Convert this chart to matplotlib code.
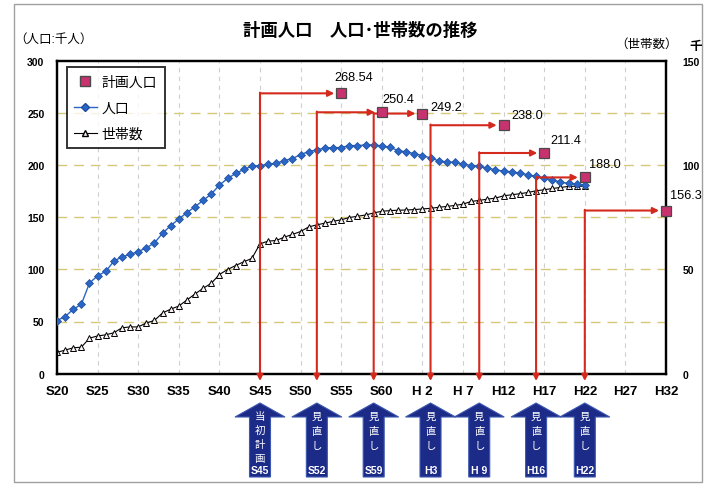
import numpy as np
import matplotlib
matplotlib.use("Agg")
import matplotlib.pyplot as plt
from matplotlib.lines import Line2D
from matplotlib.patches import Polygon, Rectangle

plt.rcParams["font.family"] = ["Liberation Sans", "Noto Sans CJK JP", "DejaVu Sans"]

# ----------------------------------------------------------
# Data
# ----------------------------------------------------------
years = list(range(1945, 2011))

population = [
    50.9, 54.7, 61.7, 66.5, 86.8, 93.8, 98.0, 107.8, 111.9, 114.2,
    117.0, 120.5, 125.3, 134.5, 141.8, 148.2, 154.3, 160.0, 166.0, 172.1,
    180.6, 187.0, 191.8, 195.6, 198.8, 199.4, 200.4, 201.6, 204.2, 206.1,
    209.9, 212.8, 214.3, 216.2, 216.6, 216.6, 218.5, 218.5, 219.1, 219.1,
    218.2, 216.9, 213.7, 212.4, 210.8, 208.9, 206.7, 203.8, 202.9, 202.3,
    200.7, 199.4, 198.8, 196.8, 195.3, 194.0, 193.4, 192.1, 190.5, 188.9,
    187.0, 185.7, 183.5, 182.2, 181.6, 180.6,
]

households = [
    10.2, 11.3, 12.4, 12.7, 17.0, 18.1, 18.6, 19.6, 22.0, 22.4,
    22.4, 24.3, 25.5, 29.1, 30.9, 32.4, 35.3, 38.2, 40.9, 43.3,
    47.5, 49.9, 51.8, 53.6, 55.2, 62.2, 63.5, 63.8, 65.4, 66.7,
    68.1, 70.3, 71.3, 72.1, 73.0, 73.7, 74.8, 75.4, 76.0, 77.0,
    77.8, 78.1, 78.3, 78.4, 78.6, 78.9, 79.2, 79.7, 80.1, 80.6,
    81.2, 82.5, 83.0, 83.6, 84.1, 85.2, 85.7, 86.2, 86.8, 87.6,
    88.1, 88.7, 89.2, 89.7, 89.8, 89.8,
]

# planned population: revision year -> target year / value
plan_revision_years = [1970, 1977, 1984, 1991, 1997, 2004, 2010]
plan_target_years = [1980, 1985, 1990, 2000, 2005, 2010, 2020]
plan_values = [268.54, 250.4, 249.2, 238.0, 211.4, 188.0, 156.3]
plan_value_labels = ["268.54", "250.4", "249.2", "238.0", "211.4", "188.0", "156.3"]

revision_words = ["当初計画", "見直し", "見直し", "見直し", "見直し", "見直し", "見直し"]
revision_names = ["S45", "S52", "S59", "H3", "H 9", "H16", "H22"]

x_ticks = list(range(1945, 2021, 5))
x_tick_labels = ["S20", "S25", "S30", "S35", "S40", "S45", "S50", "S55", "S60",
                 "H 2", "H 7", "H12", "H17", "H22", "H27", "H32"]

# label offsets (points) for the plan values
label_offsets = [(-5, 11.5), (0.5, 9.5), (5.5, 4.5), (5.5, 7.5), (4.5, 9), (3, 9.5), (3, 11)]

# ----------------------------------------------------------
# Styles
# ----------------------------------------------------------
BLUE = "#2a66c6"
RED = "#d42a1e"
PLAN_FILL = "#c8326e"
NAVY = "#1c2b88"
GRID_H = "#d6c878"
GRID_V = "#cfcfcf"

W, H = 706, 485
fig = plt.figure(figsize=(W / 100, H / 100), dpi=100)

# outer frame
fig.patches.append(Rectangle((14 / W, 1 - 483 / H), 688 / W, 478 / H,
                             transform=fig.transFigure, fill=False,
                             edgecolor="#a0a0a0", linewidth=1.0))

ax_left, ax_right_px, ax_top_px, ax_bot_px = 57, 666, 61.5, 374.7
ax = fig.add_axes([ax_left / W, 1 - ax_bot_px / H,
                   (ax_right_px - ax_left) / W, (ax_bot_px - ax_top_px) / H])
ax2 = ax.twinx()
ax.set_zorder(ax2.get_zorder() + 1)
ax.patch.set_visible(False)

ax.set_xlim(1945, 2020)
ax.set_ylim(0, 300)
ax2.set_ylim(0, 150)

# grid
for yv in range(50, 300, 50):
    ax2.axhline(yv / 2, color=GRID_H, linestyle=(0, (7, 5)), linewidth=1.0, zorder=0)
for xv in x_ticks[1:-1]:
    ax2.axvline(xv, color=GRID_V, linestyle=(0, (4, 4)), linewidth=0.8, zorder=0)

# households (right axis)
ax2.plot(years, households, color="black", linewidth=0.8, marker="^",
         markersize=5, markerfacecolor="#fbf1f1", markeredgecolor="black",
         markeredgewidth=0.7, zorder=3)

# population (left axis)
ax.plot(years, population, color=BLUE, linewidth=1.0, marker="D",
        markersize=4, markerfacecolor=BLUE, markeredgecolor="#1d4c9c",
        markeredgewidth=0.5, zorder=4)

# red revision arrows
for rev, tgt, val in zip(plan_revision_years, plan_target_years, plan_values):
    ax.annotate("", xy=(tgt - 0.85, val), xytext=(rev, val),
                arrowprops=dict(arrowstyle="-|>", color=RED, lw=1.5,
                                mutation_scale=9, shrinkA=0, shrinkB=0),
                zorder=5, annotation_clip=False)
    ax.annotate("", xy=(rev, -7), xytext=(rev, val + 0.7),
                arrowprops=dict(arrowstyle="-|>", color=RED, lw=1.5,
                                mutation_scale=9, shrinkA=0, shrinkB=0),
                zorder=5, annotation_clip=False)

# planned population markers
ax.plot(plan_target_years, plan_values, linestyle="none", marker="s",
        markersize=7.5, markerfacecolor=PLAN_FILL, markeredgecolor="#4a4a4a",
        markeredgewidth=0.9, zorder=6, clip_on=False)

for tgt, val, lab, off in zip(plan_target_years, plan_values, plan_value_labels, label_offsets):
    ax.annotate(lab, xy=(tgt, val), xytext=off, textcoords="offset points",
                ha="left", va="center", fontsize=9.2, zorder=7,
                annotation_clip=False)

# axes styling
for side in ["left", "right", "top", "bottom"]:
    ax.spines[side].set_linewidth(1.6)
    ax2.spines[side].set_linewidth(1.6)

ax.set_xticks(x_ticks)
ax.set_xticklabels(x_tick_labels, fontsize=9.5, fontweight="bold")
ax.set_yticks(range(0, 301, 50))
ax.tick_params(axis="y", length=0, pad=9, labelsize=7.5)
ax.tick_params(axis="x", length=0, pad=8)
for t in ax.get_yticklabels():
    t.set_fontweight("bold")
ax2.set_yticks(range(0, 151, 50))
ax2.tick_params(axis="y", length=0, pad=12, labelsize=7.5)
for t in ax2.get_yticklabels():
    t.set_fontweight("bold")

# legend
handles = [
    Line2D([], [], linestyle="none", marker="s", markersize=7,
           markerfacecolor=PLAN_FILL, markeredgecolor="#4a4a4a"),
    Line2D([], [], color=BLUE, marker="D", markersize=4,
           markerfacecolor=BLUE, markeredgecolor="#1d4c9c", linewidth=1.0),
    Line2D([], [], color="black", marker="^", markersize=5,
           markerfacecolor="#fbf1f1", markeredgecolor="black", linewidth=0.8),
]
leg = ax.legend(handles, ["計画人口", "人口", "世帯数"], loc="upper left",
                bbox_to_anchor=(0.016, 0.978), fontsize=10, frameon=True,
                fancybox=False, edgecolor="black", handlelength=1.6,
                handletextpad=0.35, labelspacing=0.85, borderpad=0.55,
                borderaxespad=0)
leg.get_frame().set_linewidth(1.4)

# titles / unit labels
fig.text(360 / W, 1 - 30 / H, "計画人口　人口･世帯数の推移", ha="center", va="center",
         fontsize=12.5, fontweight="bold")
fig.text(14 / W, 1 - 40 / H, "（人口:千人）", ha="left", va="center", fontsize=9)
fig.text(647 / W, 1 - 45 / H, "（世帯数）", ha="center", va="center", fontsize=9)
fig.text(696 / W, 1 - 47 / H, "千", ha="center", va="center", fontsize=9, fontweight="bold")

# blue block arrows below the axis
ax_b = fig.add_axes([ax_left / W, 0, (ax_right_px - ax_left) / W, 1 - ax_bot_px / H])
ax_b.set_xlim(1945, 2020)
ax_b.set_ylim(H, ax_bot_px)
ax_b.axis("off")

px_per_year = (ax_right_px - ax_left) / 75
head_half = 25 / px_per_year
shaft_half = 10.5 / px_per_year
tip_y, base_y, bottom_y = 404, 418, 478

for rev, word, name in zip(plan_revision_years, revision_words, revision_names):
    pts = [
        (rev, tip_y), (rev + head_half, base_y), (rev + shaft_half, base_y),
        (rev + shaft_half, bottom_y), (rev - shaft_half, bottom_y),
        (rev - shaft_half, base_y), (rev - head_half, base_y),
    ]
    ax_b.add_patch(Polygon(pts, closed=True, facecolor=NAVY,
                           edgecolor="#3c58b0", linewidth=0.8))
    step = 14 if len(word) > 3 else 14.5
    for k, ch in enumerate(word):
        ax_b.text(rev, 417 + k * step, ch, ha="center", va="center",
                  color="white", fontsize=7.5, family="Noto Sans CJK JP")
    ax_b.text(rev, 471, name, ha="center", va="center", color="white",
              fontsize=7.5, fontweight="bold")

fig.savefig("out.png", dpi=100)
